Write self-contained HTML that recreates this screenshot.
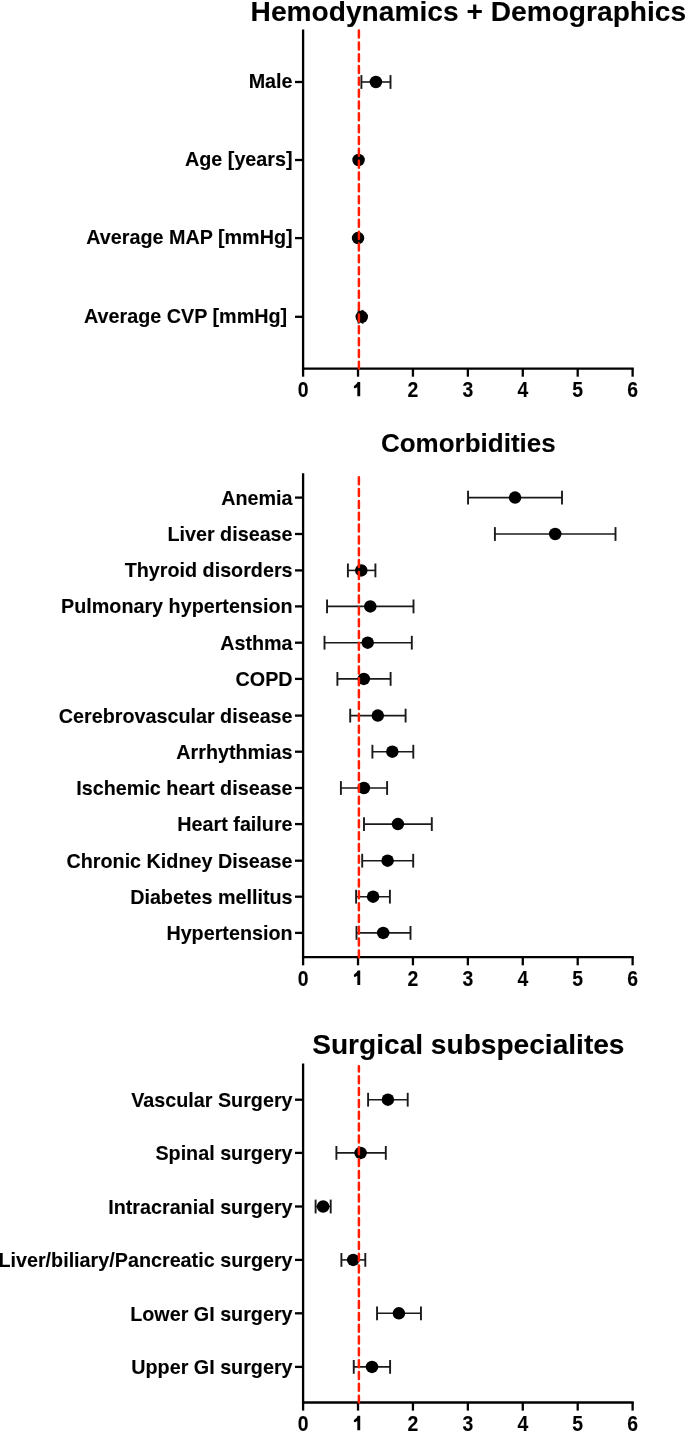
<!DOCTYPE html>
<html><head><meta charset="utf-8"><style>
html,body{margin:0;padding:0;background:#fff;}
svg{display:block;will-change:transform;}
text{font-family:"Liberation Sans", sans-serif;font-weight:bold;fill:#000;stroke:#000;stroke-width:0.1px;}
</style></head><body>
<svg width="685" height="1431" viewBox="0 0 685 1431">
<text x="468.36" y="20.8" font-size="28.15" text-anchor="middle" transform="matrix(1 0 0 1.0 0 -0)">Hemodynamics + Demographics</text>
<line x1="303.1" y1="29.6" x2="303.1" y2="369.75" stroke="#000" stroke-width="2.3"/>
<line x1="301.95" y1="368.6" x2="633.77" y2="368.6" stroke="#000" stroke-width="2.3"/>
<line x1="303.1" y1="368.6" x2="303.1" y2="376.7" stroke="#000" stroke-width="2.3"/>
<text x="303.1" y="397" font-size="20.2" text-anchor="middle" transform="matrix(0.96 0 0 1.065 12.12 -25.8)">0</text>
<line x1="358.02" y1="368.6" x2="358.02" y2="376.7" stroke="#000" stroke-width="2.3"/>
<polygon points="360.22,381.9 360.22,396.3 357.32,396.3 357.32,387.2 355.02,388.3 354.22,388.2 353.82,387.4 353.92,386.2 354.62,385.5 356.42,384 357.72,381.9" fill="#000"/>
<line x1="412.94" y1="368.6" x2="412.94" y2="376.7" stroke="#000" stroke-width="2.3"/>
<text x="412.94" y="397" font-size="20.2" text-anchor="middle" transform="matrix(0.96 0 0 1.065 16.52 -25.8)">2</text>
<line x1="467.86" y1="368.6" x2="467.86" y2="376.7" stroke="#000" stroke-width="2.3"/>
<text x="467.86" y="397" font-size="20.2" text-anchor="middle" transform="matrix(0.96 0 0 1.065 18.71 -25.8)">3</text>
<line x1="522.78" y1="368.6" x2="522.78" y2="376.7" stroke="#000" stroke-width="2.3"/>
<text x="522.78" y="397" font-size="20.2" text-anchor="middle" transform="matrix(0.96 0 0 1.065 20.91 -25.8)">4</text>
<line x1="577.7" y1="368.6" x2="577.7" y2="376.7" stroke="#000" stroke-width="2.3"/>
<text x="577.7" y="397" font-size="20.2" text-anchor="middle" transform="matrix(0.96 0 0 1.065 23.11 -25.8)">5</text>
<line x1="632.62" y1="368.6" x2="632.62" y2="376.7" stroke="#000" stroke-width="2.3"/>
<text x="632.62" y="397" font-size="20.2" text-anchor="middle" transform="matrix(0.96 0 0 1.065 25.3 -25.8)">6</text>
<line x1="295" y1="82" x2="303.1" y2="82" stroke="#000" stroke-width="2.3"/>
<text x="292.6" y="88.3" font-size="19.75" text-anchor="end">Male</text>
<line x1="361.4" y1="82" x2="390.5" y2="82" stroke="#1a1a1a" stroke-width="1.6"/>
<line x1="361.4" y1="75.1" x2="361.4" y2="88.9" stroke="#1a1a1a" stroke-width="1.9"/>
<line x1="390.5" y1="75.1" x2="390.5" y2="88.9" stroke="#1a1a1a" stroke-width="1.9"/>
<circle cx="375.9" cy="82" r="6.25" fill="#000"/>
<line x1="295" y1="160" x2="303.1" y2="160" stroke="#000" stroke-width="2.3"/>
<text x="292.6" y="166.3" font-size="19.75" text-anchor="end">Age [years]</text>
<circle cx="358.55" cy="160" r="6.25" fill="#000"/>
<line x1="295" y1="238.1" x2="303.1" y2="238.1" stroke="#000" stroke-width="2.3"/>
<text x="292.6" y="244.4" font-size="19.75" text-anchor="end">Average MAP [mmHg]</text>
<circle cx="358.05" cy="238.1" r="6.25" fill="#000"/>
<line x1="295" y1="316.8" x2="303.1" y2="316.8" stroke="#000" stroke-width="2.3"/>
<text x="287.11" y="323.1" font-size="19.75" text-anchor="end">Average CVP [mmHg]</text>
<line x1="358.6" y1="316.8" x2="362.6" y2="316.8" stroke="#1a1a1a" stroke-width="1.6"/>
<line x1="358.6" y1="309.9" x2="358.6" y2="323.7" stroke="#1a1a1a" stroke-width="1.9"/>
<line x1="362.6" y1="309.9" x2="362.6" y2="323.7" stroke="#1a1a1a" stroke-width="1.9"/>
<circle cx="361.75" cy="316.8" r="6.25" fill="#000"/>
<line x1="358.9" y1="30.55" x2="358.9" y2="368.6" stroke="#ff1e00" stroke-width="2.5" stroke-linecap="round" stroke-dasharray="7 4.83" stroke-dashoffset="0"/>
<text x="468.36" y="451.6" font-size="26" text-anchor="middle" transform="matrix(1 0 0 1.0 0 -0)">Comorbidities</text>
<line x1="303.1" y1="473.2" x2="303.1" y2="958.35" stroke="#000" stroke-width="2.3"/>
<line x1="301.95" y1="957.2" x2="633.77" y2="957.2" stroke="#000" stroke-width="2.3"/>
<line x1="303.1" y1="957.2" x2="303.1" y2="965.3" stroke="#000" stroke-width="2.3"/>
<text x="303.1" y="985.6" font-size="20.2" text-anchor="middle" transform="matrix(0.96 0 0 1.065 12.12 -64.06)">0</text>
<line x1="358.02" y1="957.2" x2="358.02" y2="965.3" stroke="#000" stroke-width="2.3"/>
<polygon points="360.22,970.5 360.22,984.9 357.32,984.9 357.32,975.8 355.02,976.9 354.22,976.8 353.82,976 353.92,974.8 354.62,974.1 356.42,972.6 357.72,970.5" fill="#000"/>
<line x1="412.94" y1="957.2" x2="412.94" y2="965.3" stroke="#000" stroke-width="2.3"/>
<text x="412.94" y="985.6" font-size="20.2" text-anchor="middle" transform="matrix(0.96 0 0 1.065 16.52 -64.06)">2</text>
<line x1="467.86" y1="957.2" x2="467.86" y2="965.3" stroke="#000" stroke-width="2.3"/>
<text x="467.86" y="985.6" font-size="20.2" text-anchor="middle" transform="matrix(0.96 0 0 1.065 18.71 -64.06)">3</text>
<line x1="522.78" y1="957.2" x2="522.78" y2="965.3" stroke="#000" stroke-width="2.3"/>
<text x="522.78" y="985.6" font-size="20.2" text-anchor="middle" transform="matrix(0.96 0 0 1.065 20.91 -64.06)">4</text>
<line x1="577.7" y1="957.2" x2="577.7" y2="965.3" stroke="#000" stroke-width="2.3"/>
<text x="577.7" y="985.6" font-size="20.2" text-anchor="middle" transform="matrix(0.96 0 0 1.065 23.11 -64.06)">5</text>
<line x1="632.62" y1="957.2" x2="632.62" y2="965.3" stroke="#000" stroke-width="2.3"/>
<text x="632.62" y="985.6" font-size="20.2" text-anchor="middle" transform="matrix(0.96 0 0 1.065 25.3 -64.06)">6</text>
<line x1="295" y1="497.6" x2="303.1" y2="497.6" stroke="#000" stroke-width="2.3"/>
<text x="292.6" y="504.5" font-size="19.75" text-anchor="end">Anemia</text>
<line x1="468.05" y1="497.6" x2="562" y2="497.6" stroke="#1a1a1a" stroke-width="1.6"/>
<line x1="468.05" y1="490.7" x2="468.05" y2="504.5" stroke="#1a1a1a" stroke-width="1.9"/>
<line x1="562" y1="490.7" x2="562" y2="504.5" stroke="#1a1a1a" stroke-width="1.9"/>
<circle cx="515.05" cy="497.6" r="6.25" fill="#000"/>
<line x1="295" y1="534" x2="303.1" y2="534" stroke="#000" stroke-width="2.3"/>
<text x="292.6" y="540.9" font-size="19.75" text-anchor="end">Liver disease</text>
<line x1="494.9" y1="534" x2="615.5" y2="534" stroke="#1a1a1a" stroke-width="1.6"/>
<line x1="494.9" y1="527.1" x2="494.9" y2="540.9" stroke="#1a1a1a" stroke-width="1.9"/>
<line x1="615.5" y1="527.1" x2="615.5" y2="540.9" stroke="#1a1a1a" stroke-width="1.9"/>
<circle cx="555.2" cy="534" r="6.25" fill="#000"/>
<line x1="295" y1="570.4" x2="303.1" y2="570.4" stroke="#000" stroke-width="2.3"/>
<text x="292.6" y="577.3" font-size="19.75" text-anchor="end">Thyroid disorders</text>
<line x1="347.9" y1="570.4" x2="375.4" y2="570.4" stroke="#1a1a1a" stroke-width="1.6"/>
<line x1="347.9" y1="563.5" x2="347.9" y2="577.3" stroke="#1a1a1a" stroke-width="1.9"/>
<line x1="375.4" y1="563.5" x2="375.4" y2="577.3" stroke="#1a1a1a" stroke-width="1.9"/>
<circle cx="361.3" cy="570.4" r="6.25" fill="#000"/>
<line x1="295" y1="606.4" x2="303.1" y2="606.4" stroke="#000" stroke-width="2.3"/>
<text x="292.6" y="613.3" font-size="19.75" text-anchor="end">Pulmonary hypertension</text>
<line x1="327.05" y1="606.4" x2="413.5" y2="606.4" stroke="#1a1a1a" stroke-width="1.6"/>
<line x1="327.05" y1="599.5" x2="327.05" y2="613.3" stroke="#1a1a1a" stroke-width="1.9"/>
<line x1="413.5" y1="599.5" x2="413.5" y2="613.3" stroke="#1a1a1a" stroke-width="1.9"/>
<circle cx="370.3" cy="606.4" r="6.25" fill="#000"/>
<line x1="295" y1="642.7" x2="303.1" y2="642.7" stroke="#000" stroke-width="2.3"/>
<text x="292.6" y="649.6" font-size="19.75" text-anchor="end">Asthma</text>
<line x1="324.5" y1="642.7" x2="411.8" y2="642.7" stroke="#1a1a1a" stroke-width="1.6"/>
<line x1="324.5" y1="635.8" x2="324.5" y2="649.6" stroke="#1a1a1a" stroke-width="1.9"/>
<line x1="411.8" y1="635.8" x2="411.8" y2="649.6" stroke="#1a1a1a" stroke-width="1.9"/>
<circle cx="367.7" cy="642.7" r="6.25" fill="#000"/>
<line x1="295" y1="678.9" x2="303.1" y2="678.9" stroke="#000" stroke-width="2.3"/>
<text x="292.6" y="685.8" font-size="19.75" text-anchor="end">COPD</text>
<line x1="337.4" y1="678.9" x2="390.6" y2="678.9" stroke="#1a1a1a" stroke-width="1.6"/>
<line x1="337.4" y1="672" x2="337.4" y2="685.8" stroke="#1a1a1a" stroke-width="1.9"/>
<line x1="390.6" y1="672" x2="390.6" y2="685.8" stroke="#1a1a1a" stroke-width="1.9"/>
<circle cx="363.8" cy="678.9" r="6.25" fill="#000"/>
<line x1="295" y1="715.6" x2="303.1" y2="715.6" stroke="#000" stroke-width="2.3"/>
<text x="292.6" y="722.5" font-size="19.75" text-anchor="end">Cerebrovascular disease</text>
<line x1="350.2" y1="715.6" x2="405.6" y2="715.6" stroke="#1a1a1a" stroke-width="1.6"/>
<line x1="350.2" y1="708.7" x2="350.2" y2="722.5" stroke="#1a1a1a" stroke-width="1.9"/>
<line x1="405.6" y1="708.7" x2="405.6" y2="722.5" stroke="#1a1a1a" stroke-width="1.9"/>
<circle cx="377.8" cy="715.6" r="6.25" fill="#000"/>
<line x1="295" y1="751.7" x2="303.1" y2="751.7" stroke="#000" stroke-width="2.3"/>
<text x="292.6" y="758.6" font-size="19.75" text-anchor="end">Arrhythmias</text>
<line x1="372.4" y1="751.7" x2="413.3" y2="751.7" stroke="#1a1a1a" stroke-width="1.6"/>
<line x1="372.4" y1="744.8" x2="372.4" y2="758.6" stroke="#1a1a1a" stroke-width="1.9"/>
<line x1="413.3" y1="744.8" x2="413.3" y2="758.6" stroke="#1a1a1a" stroke-width="1.9"/>
<circle cx="392.3" cy="751.7" r="6.25" fill="#000"/>
<line x1="295" y1="788" x2="303.1" y2="788" stroke="#000" stroke-width="2.3"/>
<text x="292.6" y="794.9" font-size="19.75" text-anchor="end">Ischemic heart disease</text>
<line x1="340.9" y1="788" x2="387.1" y2="788" stroke="#1a1a1a" stroke-width="1.6"/>
<line x1="340.9" y1="781.1" x2="340.9" y2="794.9" stroke="#1a1a1a" stroke-width="1.9"/>
<line x1="387.1" y1="781.1" x2="387.1" y2="794.9" stroke="#1a1a1a" stroke-width="1.9"/>
<circle cx="363.9" cy="788" r="6.25" fill="#000"/>
<line x1="295" y1="824.1" x2="303.1" y2="824.1" stroke="#000" stroke-width="2.3"/>
<text x="292.6" y="831" font-size="19.75" text-anchor="end">Heart failure</text>
<line x1="364" y1="824.1" x2="431.8" y2="824.1" stroke="#1a1a1a" stroke-width="1.6"/>
<line x1="364" y1="817.2" x2="364" y2="831" stroke="#1a1a1a" stroke-width="1.9"/>
<line x1="431.8" y1="817.2" x2="431.8" y2="831" stroke="#1a1a1a" stroke-width="1.9"/>
<circle cx="397.9" cy="824.1" r="6.25" fill="#000"/>
<line x1="295" y1="860.7" x2="303.1" y2="860.7" stroke="#000" stroke-width="2.3"/>
<text x="292.6" y="867.6" font-size="19.75" text-anchor="end">Chronic Kidney Disease</text>
<line x1="362.2" y1="860.7" x2="413.2" y2="860.7" stroke="#1a1a1a" stroke-width="1.6"/>
<line x1="362.2" y1="853.8" x2="362.2" y2="867.6" stroke="#1a1a1a" stroke-width="1.9"/>
<line x1="413.2" y1="853.8" x2="413.2" y2="867.6" stroke="#1a1a1a" stroke-width="1.9"/>
<circle cx="387.6" cy="860.7" r="6.25" fill="#000"/>
<line x1="295" y1="896.7" x2="303.1" y2="896.7" stroke="#000" stroke-width="2.3"/>
<text x="292.6" y="903.6" font-size="19.75" text-anchor="end">Diabetes mellitus</text>
<line x1="356.1" y1="896.7" x2="389.9" y2="896.7" stroke="#1a1a1a" stroke-width="1.6"/>
<line x1="356.1" y1="889.8" x2="356.1" y2="903.6" stroke="#1a1a1a" stroke-width="1.9"/>
<line x1="389.9" y1="889.8" x2="389.9" y2="903.6" stroke="#1a1a1a" stroke-width="1.9"/>
<circle cx="373.1" cy="896.7" r="6.25" fill="#000"/>
<line x1="295" y1="932.9" x2="303.1" y2="932.9" stroke="#000" stroke-width="2.3"/>
<text x="292.6" y="939.8" font-size="19.75" text-anchor="end">Hypertension</text>
<line x1="356.5" y1="932.9" x2="410.5" y2="932.9" stroke="#1a1a1a" stroke-width="1.6"/>
<line x1="356.5" y1="926" x2="356.5" y2="939.8" stroke="#1a1a1a" stroke-width="1.9"/>
<line x1="410.5" y1="926" x2="410.5" y2="939.8" stroke="#1a1a1a" stroke-width="1.9"/>
<circle cx="383.2" cy="932.9" r="6.25" fill="#000"/>
<line x1="358.9" y1="477.25" x2="358.9" y2="957.2" stroke="#ff1e00" stroke-width="2.5" stroke-linecap="round" stroke-dasharray="7 4.83" stroke-dashoffset="0"/>
<text x="468.36" y="1053.8" font-size="28.1" text-anchor="middle" transform="matrix(1 0 0 1.0 0 -0)">Surgical subspecialites</text>
<line x1="303.1" y1="1063.5" x2="303.1" y2="1403.65" stroke="#000" stroke-width="2.3"/>
<line x1="301.95" y1="1402.5" x2="633.77" y2="1402.5" stroke="#000" stroke-width="2.3"/>
<line x1="303.1" y1="1402.5" x2="303.1" y2="1410.6" stroke="#000" stroke-width="2.3"/>
<text x="303.1" y="1430.9" font-size="20.2" text-anchor="middle" transform="matrix(0.96 0 0 1.065 12.12 -93.01)">0</text>
<line x1="358.02" y1="1402.5" x2="358.02" y2="1410.6" stroke="#000" stroke-width="2.3"/>
<polygon points="360.22,1415.8 360.22,1430.2 357.32,1430.2 357.32,1421.1 355.02,1422.2 354.22,1422.1 353.82,1421.3 353.92,1420.1 354.62,1419.4 356.42,1417.9 357.72,1415.8" fill="#000"/>
<line x1="412.94" y1="1402.5" x2="412.94" y2="1410.6" stroke="#000" stroke-width="2.3"/>
<text x="412.94" y="1430.9" font-size="20.2" text-anchor="middle" transform="matrix(0.96 0 0 1.065 16.52 -93.01)">2</text>
<line x1="467.86" y1="1402.5" x2="467.86" y2="1410.6" stroke="#000" stroke-width="2.3"/>
<text x="467.86" y="1430.9" font-size="20.2" text-anchor="middle" transform="matrix(0.96 0 0 1.065 18.71 -93.01)">3</text>
<line x1="522.78" y1="1402.5" x2="522.78" y2="1410.6" stroke="#000" stroke-width="2.3"/>
<text x="522.78" y="1430.9" font-size="20.2" text-anchor="middle" transform="matrix(0.96 0 0 1.065 20.91 -93.01)">4</text>
<line x1="577.7" y1="1402.5" x2="577.7" y2="1410.6" stroke="#000" stroke-width="2.3"/>
<text x="577.7" y="1430.9" font-size="20.2" text-anchor="middle" transform="matrix(0.96 0 0 1.065 23.11 -93.01)">5</text>
<line x1="632.62" y1="1402.5" x2="632.62" y2="1410.6" stroke="#000" stroke-width="2.3"/>
<text x="632.62" y="1430.9" font-size="20.2" text-anchor="middle" transform="matrix(0.96 0 0 1.065 25.3 -93.01)">6</text>
<line x1="295" y1="1099.7" x2="303.1" y2="1099.7" stroke="#000" stroke-width="2.3"/>
<text x="292.6" y="1107" font-size="19.75" text-anchor="end">Vascular Surgery</text>
<line x1="368.1" y1="1099.7" x2="407.7" y2="1099.7" stroke="#1a1a1a" stroke-width="1.6"/>
<line x1="368.1" y1="1092.8" x2="368.1" y2="1106.6" stroke="#1a1a1a" stroke-width="1.9"/>
<line x1="407.7" y1="1092.8" x2="407.7" y2="1106.6" stroke="#1a1a1a" stroke-width="1.9"/>
<circle cx="387.9" cy="1099.7" r="6.25" fill="#000"/>
<line x1="295" y1="1152.9" x2="303.1" y2="1152.9" stroke="#000" stroke-width="2.3"/>
<text x="292.6" y="1160.2" font-size="19.75" text-anchor="end">Spinal surgery</text>
<line x1="336.4" y1="1152.9" x2="385.8" y2="1152.9" stroke="#1a1a1a" stroke-width="1.6"/>
<line x1="336.4" y1="1146" x2="336.4" y2="1159.8" stroke="#1a1a1a" stroke-width="1.9"/>
<line x1="385.8" y1="1146" x2="385.8" y2="1159.8" stroke="#1a1a1a" stroke-width="1.9"/>
<circle cx="360.6" cy="1152.9" r="6.25" fill="#000"/>
<line x1="295" y1="1206.5" x2="303.1" y2="1206.5" stroke="#000" stroke-width="2.3"/>
<text x="292.6" y="1213.8" font-size="19.75" text-anchor="end">Intracranial surgery</text>
<line x1="315.6" y1="1206.5" x2="330.7" y2="1206.5" stroke="#1a1a1a" stroke-width="1.6"/>
<line x1="315.6" y1="1199.6" x2="315.6" y2="1213.4" stroke="#1a1a1a" stroke-width="1.9"/>
<line x1="330.7" y1="1199.6" x2="330.7" y2="1213.4" stroke="#1a1a1a" stroke-width="1.9"/>
<circle cx="323.1" cy="1206.5" r="6.25" fill="#000"/>
<line x1="295" y1="1259.9" x2="303.1" y2="1259.9" stroke="#000" stroke-width="2.3"/>
<text x="292.6" y="1267.2" font-size="19.75" text-anchor="end">Liver/biliary/Pancreatic surgery</text>
<line x1="341.4" y1="1259.9" x2="365.3" y2="1259.9" stroke="#1a1a1a" stroke-width="1.6"/>
<line x1="341.4" y1="1253" x2="341.4" y2="1266.8" stroke="#1a1a1a" stroke-width="1.9"/>
<line x1="365.3" y1="1253" x2="365.3" y2="1266.8" stroke="#1a1a1a" stroke-width="1.9"/>
<circle cx="353.2" cy="1259.9" r="6.25" fill="#000"/>
<line x1="295" y1="1313.3" x2="303.1" y2="1313.3" stroke="#000" stroke-width="2.3"/>
<text x="292.6" y="1320.6" font-size="19.75" text-anchor="end">Lower GI surgery</text>
<line x1="377.05" y1="1313.3" x2="420.96" y2="1313.3" stroke="#1a1a1a" stroke-width="1.6"/>
<line x1="377.05" y1="1306.4" x2="377.05" y2="1320.2" stroke="#1a1a1a" stroke-width="1.9"/>
<line x1="420.96" y1="1306.4" x2="420.96" y2="1320.2" stroke="#1a1a1a" stroke-width="1.9"/>
<circle cx="398.9" cy="1313.3" r="6.25" fill="#000"/>
<line x1="295" y1="1366.9" x2="303.1" y2="1366.9" stroke="#000" stroke-width="2.3"/>
<text x="292.6" y="1374.2" font-size="19.75" text-anchor="end">Upper GI surgery</text>
<line x1="353.75" y1="1366.9" x2="390.1" y2="1366.9" stroke="#1a1a1a" stroke-width="1.6"/>
<line x1="353.75" y1="1360" x2="353.75" y2="1373.8" stroke="#1a1a1a" stroke-width="1.9"/>
<line x1="390.1" y1="1360" x2="390.1" y2="1373.8" stroke="#1a1a1a" stroke-width="1.9"/>
<circle cx="372" cy="1366.9" r="6.25" fill="#000"/>
<line x1="358.9" y1="1066.25" x2="358.9" y2="1402.5" stroke="#ff1e00" stroke-width="2.5" stroke-linecap="round" stroke-dasharray="7 4.83" stroke-dashoffset="1.8"/>
</svg>
</body></html>
